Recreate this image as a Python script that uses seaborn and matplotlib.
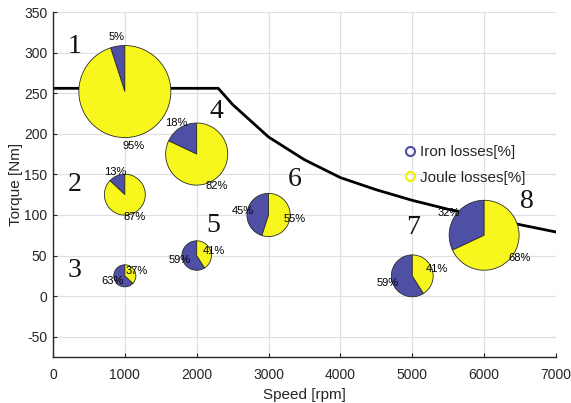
import numpy as np
import pandas as pd
import matplotlib
matplotlib.use("Agg")
import matplotlib.pyplot as plt
import matplotlib.transforms as mtransforms
from matplotlib.patches import Wedge
from matplotlib.lines import Line2D
import seaborn as sns

# torque envelope
speed_curve = [0, 2300, 2500, 3000, 3500, 4000, 4500, 5000, 5500, 6000, 6500, 7000]
torque_curve = [256, 256, 236, 196, 168, 146, 131, 118, 107, 98, 88, 79]

# operating points
op_speed = [1000, 1000, 1000, 2000, 2000, 3000, 5000, 6000]
op_torque = [252, 125, 25, 175, 50, 100, 25, 75]
op_names = ['1', '2', '3', '4', '5', '6', '7', '8']
iron_pct = [5, 13, 63, 18, 59, 45, 59, 32]
joule_pct = [95, 87, 37, 82, 41, 55, 41, 68]
pie_size = [1.0, 0.445, 0.24, 0.675, 0.32, 0.47, 0.455, 0.76]  # relative pie radius

# point-label positions (data coords)
name_x = [300, 300, 300, 2270, 2230, 3360, 5010, 6600]
name_y = [308, 138, 31, 227, 87, 144, 85, 116]

IRON_COLOR = '#4f4fa6'
JOULE_COLOR = '#f7f71e'
R_MAX = 0.46  # inches

sns.set_style("whitegrid")
plt.rcParams['font.family'] = ['Liberation Sans', 'DejaVu Sans']
plt.rcParams['axes.unicode_minus'] = False

fig = plt.figure(figsize=(5.71, 4.03), dpi=100)
ax = fig.add_axes([0.0928, 0.1141, 0.8809, 0.8561])

df = pd.DataFrame({'Speed': speed_curve, 'Torque': torque_curve})
sns.lineplot(data=df, x='Speed', y='Torque', color='black', linewidth=2, ax=ax, zorder=2)

for i in range(len(op_speed)):
    r = R_MAX * pie_size[i]
    trans = fig.dpi_scale_trans + mtransforms.ScaledTranslation(op_speed[i], op_torque[i], ax.transData)
    a_split = 90 + 360 * iron_pct[i] / 100
    ax.add_patch(Wedge((0, 0), r, 90, a_split, facecolor=IRON_COLOR, edgecolor='#2a2a2a',
                       linewidth=0.6, transform=trans, zorder=3))
    ax.add_patch(Wedge((0, 0), r, a_split, 450, facecolor=JOULE_COLOR, edgecolor='#2a2a2a',
                       linewidth=0.6, transform=trans, zorder=3))
    # percentage labels at 1.2 R, mid angle
    for pct, a0, a1 in [(iron_pct[i], 90, a_split), (joule_pct[i], a_split, 450)]:
        mid = np.deg2rad((a0 + a1) / 2)
        off = 1.2 * r * 72
        ax.annotate(f'{pct}%', xy=(op_speed[i], op_torque[i]),
                    xytext=(off * np.cos(mid), off * np.sin(mid)), textcoords='offset points',
                    ha='center', va='center', fontsize=8, color='black', zorder=4)
    ax.text(name_x[i], name_y[i], op_names[i], fontsize=20, family='Liberation Serif',
            ha='center', va='center', color='#111111', zorder=4)

handles = [
    Line2D([], [], linestyle='none', marker='o', markersize=6.5, markerfacecolor='none',
           markeredgecolor=IRON_COLOR, markeredgewidth=1.5, label='Iron losses[%]'),
    Line2D([], [], linestyle='none', marker='o', markersize=6.5, markerfacecolor='none',
           markeredgecolor='#f0f000', markeredgewidth=1.5, label='Joule losses[%]'),
]
ax.legend(handles=handles, loc='upper left', bbox_to_anchor=(0.685, 0.636), frameon=False,
          fontsize=11, handlelength=0.6, handletextpad=0.35, labelspacing=0.75, borderpad=0)

ax.set_xlim(0, 7000)
ax.set_ylim(-75, 350)
ax.set_xticks(np.arange(0, 7001, 1000))
ax.set_yticks(np.arange(-50, 351, 50))
ax.set_xlabel('Speed [rpm]', fontsize=11, color='#262626', labelpad=4)
ax.set_ylabel('Torque [Nm]', fontsize=11, color='#262626', labelpad=1)
ax.grid(True, color='#e0e0e0', linewidth=0.9)
ax.set_axisbelow(True)
for side in ['top', 'right']:
    ax.spines[side].set_visible(False)
for side in ['left', 'bottom']:
    ax.spines[side].set_color('#262626')
    ax.spines[side].set_linewidth(1.0)
ax.tick_params(direction='in', length=3, width=0.8, labelsize=10, colors='#262626',
               left=True, bottom=True)
ax.tick_params(axis='x', pad=8)
ax.tick_params(axis='y', pad=4)
ax.set_facecolor('white')

fig.savefig('out.png', dpi=100)
